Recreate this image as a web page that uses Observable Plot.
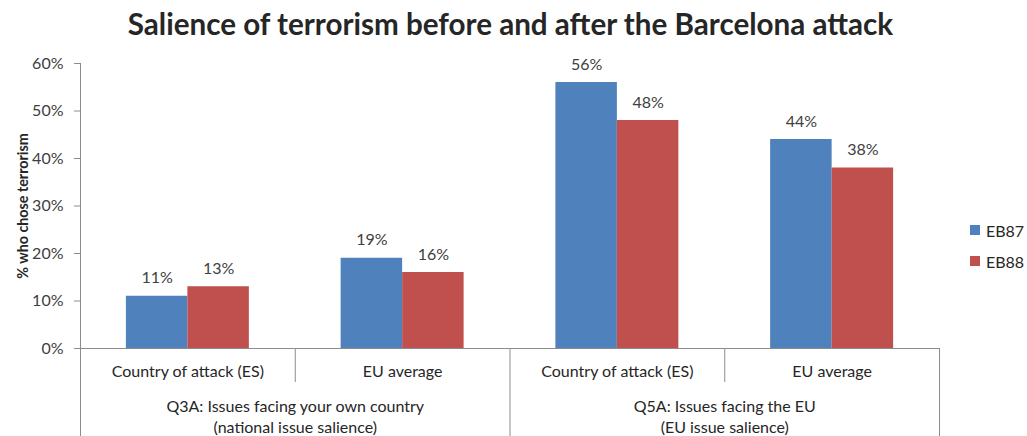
<!DOCTYPE html>
<html><head><meta charset="utf-8">
<script src="https://cdn.jsdelivr.net/npm/d3@7"></script>
<script src="https://cdn.jsdelivr.net/npm/@observablehq/plot@0.6"></script>
<style>
body{margin:0;background:#fff;font-family:Lato, "Open Sans", sans-serif;}
#wrap{position:relative;width:1027px;height:436px;overflow:hidden;}
#title{position:absolute;left:-3px;top:0;width:1027px;height:50px;text-align:center;font-weight:bold;font-size:29.6px;line-height:48px;color:#262626;}
#chart{position:absolute;left:0;top:50px;}
#legend{position:absolute;left:970px;top:219px;font-size:16px;color:#262626;}
#legend .item{display:flex;align-items:center;height:22px;margin-bottom:9px;}
#legend .sw{width:10px;height:10px;margin-right:6px;}
#chart svg g[aria-label="y-axis tick label"]{fill:#404040;}
#chart svg g[aria-label="y-axis label"]{fill:#262626;font-weight:bold;font-size:14.3px;}
</style></head><body>
<div id="wrap">
  <div id="title">Salience of terrorism before and after the Barcelona attack</div>
  <div id="chart"></div>
  <div id="legend"></div>
</div>
<script>
// ---- data ----
const groups = ["Q3A: Issues facing your own country\n(national issue salience)", "Q5A: Issues facing the EU\n(EU issue salience)"];
const categories = ["Country of attack (ES)", "EU average", "Country of attack (ES)", "EU average"];
const categoryGroup = [0, 0, 1, 1];
const series = ["EB87", "EB88"];
const colors = ["#4F81BD", "#C0504D"];
const eb87 = [0.11, 0.19, 0.56, 0.44];
const eb88 = [0.13, 0.16, 0.48, 0.38];
const yTicks = [0, 0.1, 0.2, 0.3, 0.4, 0.5, 0.6];
const yLabel = "% who chose terrorism";

// ---- build ----
const keys = categories.map((c, i) => categoryGroup[i] + "|" + c);
const data = keys.flatMap((k, i) => [
  {key: k, series: series[0], value: eb87[i]},
  {key: k, series: series[1], value: eb88[i]}
]);
const facets = keys.map((k, i) => ({key: k, category: categories[i], group: categoryGroup[i],
  first: i === 0 || categoryGroup[i] !== categoryGroup[i - 1], last: i === keys.length - 1}));
const groupRows = groups.map((g, gi) => ({label: g, key: keys[categoryGroup.indexOf(gi)]}));

const W = 1027, H = 386, mL = 80, mR = 88, mT = 13, mB = 88;
const fw = (W - mL - mR) / keys.length;
const plotH = H - mT - mB;
const pct = d3.format(".0%");
const sepStroke = "#8c8c8c";

const chart = Plot.plot({
  width: W, height: H,
  marginLeft: mL, marginRight: mR, marginTop: mT, marginBottom: mB,
  style: {fontFamily: "Lato, 'Open Sans', sans-serif", fontSize: "16px", color: sepStroke, background: "#fff", overflow: "visible"},
  fx: {domain: keys, padding: 0, round: false, axis: null},
  x: {domain: series, paddingInner: 0, paddingOuter: 0.746, round: false, axis: null},
  y: {domain: [0, 0.6], ticks: yTicks, tickFormat: pct, tickSize: 6, tickPadding: 11, line: true,
      label: yLabel, labelAnchor: "center", labelOffset: 63, labelArrow: "none"},
  color: {domain: series, range: colors},
  marks: [
    Plot.barY(data, {fx: "key", x: "series", y: "value", fill: "series"}),
    Plot.text(data, {fx: "key", x: "series", y: "value", text: d => pct(d.value), dy: -18, fill: "#404040", fontSize: 16}),
    Plot.ruleY([0], {stroke: sepStroke}),
    // separators below the axis
    Plot.ruleX(facets.filter(d => d.first), {fx: "key", x: null, dx: -fw / 2, insetTop: plotH, insetBottom: -mB, stroke: sepStroke}),
    Plot.ruleX(facets.filter(d => !d.first), {fx: "key", x: null, dx: -fw / 2, insetTop: plotH, insetBottom: -34, stroke: sepStroke}),
    Plot.ruleX(facets.filter(d => d.last), {fx: "key", x: null, dx: fw / 2, insetTop: plotH, insetBottom: -mB, stroke: sepStroke}),
    // category labels
    Plot.text(facets, {fx: "key", text: "category", frameAnchor: "bottom", lineAnchor: "middle", dy: 23, fill: "#262626", fontSize: 16}),
    // group labels
    Plot.text(groupRows, {fx: "key", text: "label", frameAnchor: "bottom-right", textAnchor: "middle", lineAnchor: "middle", dy: 67.5, lineHeight: 1.3, fill: "#262626", fontSize: 16})
  ]
});
document.getElementById("chart").appendChild(chart);

const lg = d3.select("#legend");
series.forEach((s, i) => {
  const it = lg.append("div").attr("class", "item");
  it.append("div").attr("class", "sw").style("background", colors[i]);
  it.append("span").text(s);
});
</script>
</body></html>
